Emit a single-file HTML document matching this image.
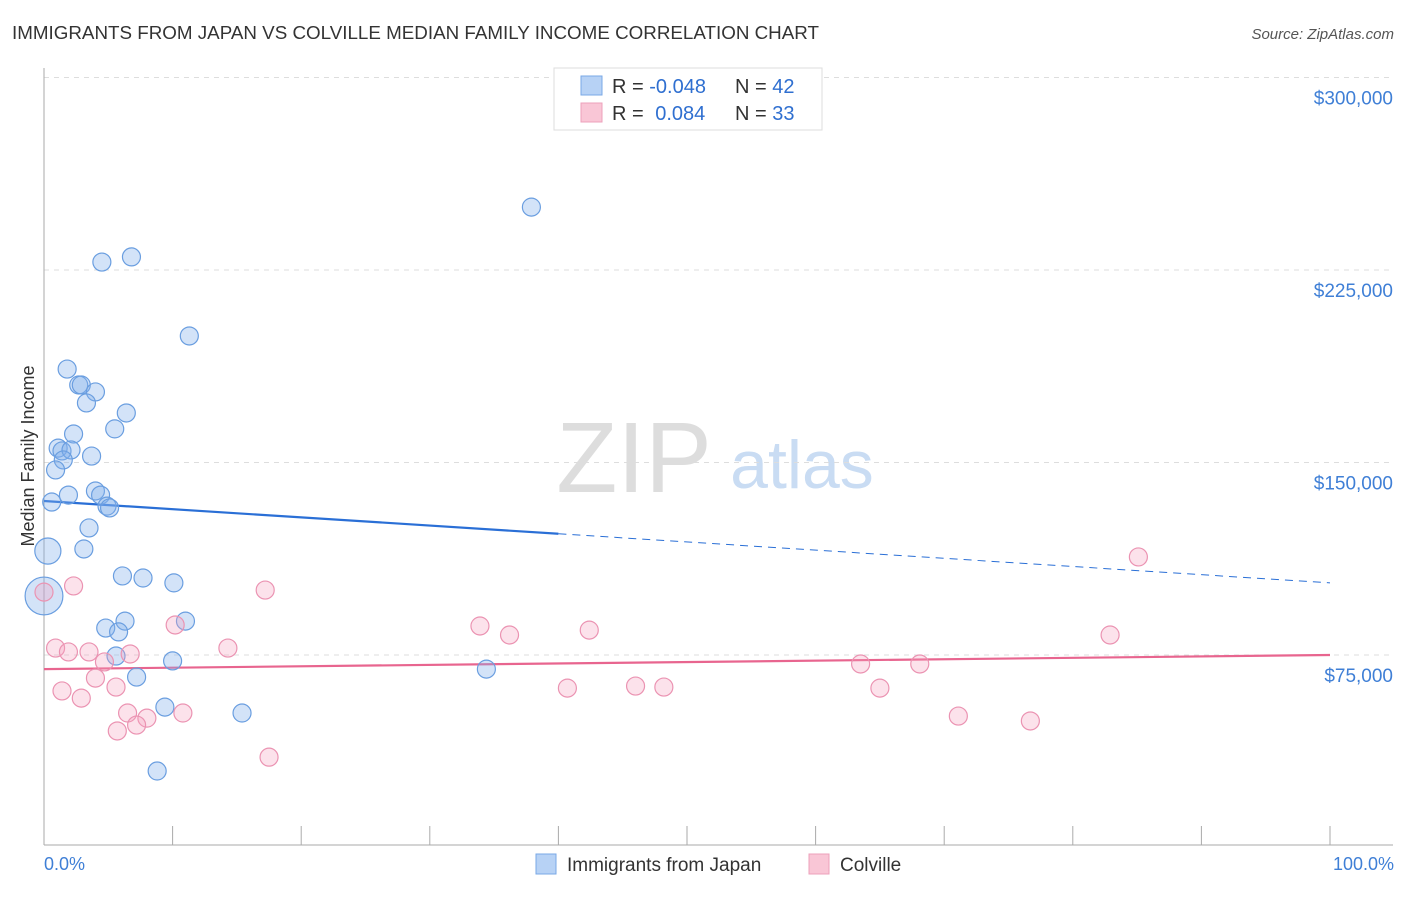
<!DOCTYPE html>
<html><head><meta charset="utf-8">
<style>
body{margin:0;background:#fff;font-family:"Liberation Sans",sans-serif;}
svg text{font-family:"Liberation Sans",sans-serif;}
</style></head>
<body>
<svg id="chart" width="1406" height="892" xmlns="http://www.w3.org/2000/svg">
<text x="12" y="39" font-size="18" fill="#333" textLength="807" lengthAdjust="spacingAndGlyphs">IMMIGRANTS FROM JAPAN VS COLVILLE MEDIAN FAMILY INCOME CORRELATION CHART</text>
<text x="1394" y="39" font-size="15" fill="#555" text-anchor="end" font-style="italic">Source: ZipAtlas.com</text>
<g>
<text x="634" y="492" font-size="100" fill="#ddd" text-anchor="middle" font-family="Liberation Serif,serif">ZIP</text>
<text x="802" y="488" font-size="68" fill="#c9dcf3" text-anchor="middle">atlas</text>
</g>
<g id="grid"></g>
<g id="axes"></g>
<g id="trend"></g>
<g id="points"></g>
<text transform="translate(34,456) rotate(-90)" font-size="18" fill="#333" text-anchor="middle">Median Family Income</text>
<text x="44" y="870" font-size="18" fill="#3f7fd6">0.0%</text>
<text x="1394" y="870" font-size="18" fill="#3f7fd6" text-anchor="end">100.0%</text>
<g>
<rect x="554" y="68" width="268" height="62" fill="#fff" stroke="#ddd"/>
<rect x="581" y="76" width="21" height="19" fill="#b7d2f5" stroke="#7aa8e6"/>
<rect x="581" y="103" width="21" height="19" fill="#f9c6d6" stroke="#eda0bb"/>
<text x="612" y="93" font-size="20" fill="#333">R = <tspan fill="#2f6fd0">-0.048</tspan></text>
<text x="735" y="93" font-size="20" fill="#333">N = <tspan fill="#2f6fd0">42</tspan></text>
<text x="612" y="120" font-size="20" fill="#333">R = <tspan fill="#2f6fd0" dx="6">0.084</tspan></text>
<text x="735" y="120" font-size="20" fill="#333">N = <tspan fill="#2f6fd0">33</tspan></text>
</g>
<g>
<rect x="536" y="854" width="20" height="20" fill="#b7d2f5" stroke="#7aa8e6"/>
<text x="567" y="871" font-size="19" fill="#333">Immigrants from Japan</text>
<rect x="809" y="854" width="20" height="20" fill="#f9c6d6" stroke="#eda0bb"/>
<text x="840" y="871" font-size="19" fill="#333">Colville</text>
</g>
</svg>
<script>
const yTicks=[75000,150000,225000,300000];
const yTickLabels=["$75,000","$150,000","$225,000","$300,000"];
const xTicks=[0,10,20,30,40,50,60,70,80,90,100];
const japanX=[37.9,4.5,6.8,11.3,1.8,2.7,2.9,4.0,3.3,6.4,5.5,2.3,1.1,1.4,2.1,1.5,3.7,0.9,1.9,4.0,4.4,4.9,5.1,0.6,3.5,3.1,0.3,6.1,7.7,10.1,0,6.3,11.0,4.8,5.8,5.6,10.0,7.2,34.4,9.4,15.4,8.8];
const japanY=[249.5,228.1,230.1,199.3,186.4,180.2,180.2,177.5,173.2,169.3,163.1,161.1,155.6,154.5,154.9,151.0,152.5,147.1,137.3,138.9,137.3,133.0,132.3,134.6,124.5,116.3,115.5,105.8,105.0,103.1,98.0,88.2,88.2,85.5,84.0,74.6,72.7,66.4,69.5,54.7,52.4,29.8];
const japanSize=[1,1,1,1,1,1,1,1,1,1,1,1,1,1,1,1,1,1,1,1,1,1,1,1,1,1,1.45,1,1,1,2.1,1,1,1,1,1,1,1,1,1,1,1];
const colX=[0,2.3,17.2,85.1,33.9,36.2,42.4,10.2,14.3,82.9,0.9,1.9,3.5,6.7,4.7,63.5,68.1,4.0,1.4,2.9,5.6,40.7,46.0,48.2,65.0,6.5,10.8,8.0,71.1,76.7,5.7,7.2,17.5];
const colY=[99.5,101.9,100.3,113.2,86.3,82.8,84.7,86.7,77.7,82.8,77.7,76.2,76.2,75.4,72.3,71.5,71.5,66.0,61.0,58.2,62.5,62.1,62.9,62.5,62.1,52.4,52.4,50.4,51.2,49.3,45.4,47.7,35.2];
const japanTrend=[135.0,103.1];
const colTrend=[69.5,75.0];

const NS="http://www.w3.org/2000/svg";
const xs=p=>44+p*12.86;
const ys=v=>655-(v-75000)*192.5/75000;
function mk(t,a,parent){const e=document.createElementNS(NS,t);for(const k in a)e.setAttribute(k,a[k]);document.getElementById(parent).appendChild(e);return e;}

yTicks.forEach((v,i)=>{
  const g=mk('line',{x1:44,x2:1393,y1:ys(v),y2:ys(v),stroke:'#ddd','stroke-dasharray':'5,5'},'grid');
  
  
  const t=mk('text',{x:1393,y:ys(v)+27,'font-size':19,fill:'#3f7fd6','text-anchor':'end'},'grid');
  t.textContent=yTickLabels[i];
  
  
});
const ax=mk('line',{x1:44,x2:44,y1:68,y2:845,stroke:'#aaa'},'axes');


const bx=mk('line',{x1:44,x2:1393,y1:845,y2:845,stroke:'#aaa'},'axes');


xTicks.forEach(p=>{
  const t=mk('line',{x1:xs(p),x2:xs(p),y1:826,y2:845,stroke:'#aaa'},'axes');
  
  
});
const tv=(a,p)=>(a[0]+(a[1]-a[0])*p/100)*1000;
const b1=mk('line',{x1:xs(0),y1:ys(tv(japanTrend,0)),x2:xs(40),y2:ys(tv(japanTrend,40)),stroke:'#2a6fd6','stroke-width':2.2},'trend');


const b2=mk('line',{x1:xs(40),y1:ys(tv(japanTrend,40)),x2:xs(100),y2:ys(tv(japanTrend,100)),stroke:'#2a6fd6','stroke-width':1,'stroke-dasharray':'8,6'},'trend');


const p1=mk('line',{x1:xs(0),y1:ys(tv(colTrend,0)),x2:xs(100),y2:ys(tv(colTrend,100)),stroke:'#e8658f','stroke-width':2.2},'trend');



japanX.forEach((x,i)=>{
  const c=mk('circle',{cx:xs(x),cy:ys(japanY[i]*1000),r:9*japanSize[i],fill:'rgba(130,175,235,0.35)',stroke:'#6a9ee0','stroke-width':1.2},'points');
  
  
});
colX.forEach((x,i)=>{
  const c=mk('circle',{cx:xs(x),cy:ys(colY[i]*1000),r:9,fill:'rgba(245,160,190,0.3)',stroke:'#eb93b2','stroke-width':1.2},'points');
  
  
});
</script>
</body></html>
